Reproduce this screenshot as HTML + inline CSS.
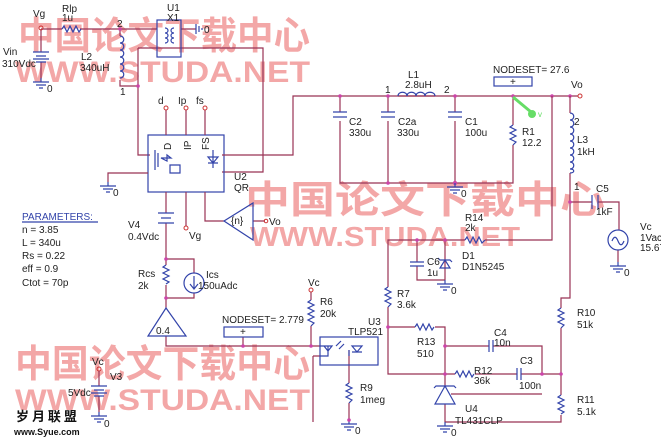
<!DOCTYPE html>
<html><head><meta charset="utf-8"><style>
body{margin:0;background:#fff}
svg{display:block}
text{font-family:"Liberation Sans",sans-serif;font-size:10px;fill:#222}
.w{stroke:#993355;stroke-width:1.2;fill:none}
.c{stroke:#3344aa;stroke-width:1.2;fill:none}
.n{fill:#cc44aa}
text.wm{font-family:"Liberation Sans","Noto Sans CJK SC",sans-serif;font-weight:bold;fill:#f08a8a;opacity:.75}
text.big{font-size:38px}
text.lat{font-size:30px}
</style></head><body>
<svg width="661" height="442" viewBox="0 0 661 442" xmlns="http://www.w3.org/2000/svg">
<defs>
<g id="gnd"><path class="c" d="M0 0v4M-8 4h16M-5 7h10M-2 10h4"/></g>
</defs>
<!-- watermarks -->
<text class="wm big" x="18" y="49" textLength="292" lengthAdjust="spacingAndGlyphs">中国论文下载中心</text>
<text class="wm lat" x="15" y="82" textLength="295" lengthAdjust="spacingAndGlyphs">WWW.STUDA.NET</text>
<text class="wm big" x="245" y="213" textLength="360" lengthAdjust="spacingAndGlyphs">中国论文下载中心</text>
<text class="wm lat" x="250" y="246" textLength="270" lengthAdjust="spacingAndGlyphs" style="font-size:28px">WWW.STUDA.NET</text>
<text class="wm big" x="15" y="377" textLength="295" lengthAdjust="spacingAndGlyphs">中国论文下载中心</text>
<text class="wm lat" x="15" y="410" textLength="295" lengthAdjust="spacingAndGlyphs">WWW.STUDA.NET</text>

<!-- top left -->
<path class="w" d="M41 29H62M80 29H157M181 29H196M41 29V52M41 62V78M120 29V36M120 80V86H138M138 48H263V172H222M138 48V155H150"/>
<path class="c" d="M62 29l2-3 3 6 3-6 3 6 3-6 3 6 2-3"/>
<path class="c" d="M120 36c5 0 5 7 0 7c5 0 5 7 0 7c5 0 5 7 0 7c5 0 5 7 0 7c5 0 5 7 0 7c5 0 5 7 0 7"/>
<rect class="c" x="157" y="20" width="24" height="37"/>
<path class="c" d="M165 28c4 0 4 5 0 5c4 0 4 5 0 5c4 0 4 5 0 5M174 28c-4 0 -4 5 0 5c-4 0 -4 5 0 5c-4 0 -4 5 0 5M196 24v10M199 26v6M202 28v2"/>
<path class="c" d="M33 52h16M36 56h10M33 59h16M36 62h10"/>
<use href="#gnd" x="41" y="78"/>
<circle cx="41" cy="28" r="2" fill="none" stroke="#cc3333"/>
<circle class="n" cx="120" cy="29" r="1.8"/><circle class="n" cx="138" cy="86" r="1.8"/>
<text x="33" y="17">Vg</text><text x="62" y="12">Rlp</text><text x="62" y="21">1u</text>
<text x="167" y="11">U1</text><text x="167" y="21">X1</text><text x="204" y="33">0</text>
<text x="117" y="27" font-size="9">2</text><text x="120" y="95" font-size="9">1</text>
<text x="81" y="60">L2</text><text x="80" y="71">340uH</text>
<text x="3" y="55">Vin</text><text x="2" y="67">310Vdc</text><text x="47" y="92">0</text>

<!-- U2 -->
<rect class="c" x="148" y="135" width="76" height="57"/>
<path class="w" d="M166 110V135M186 110V135M205 110V135M222 155H293V96H578M148 173H108V182M166 192V213M166 223V259M186 192V226M205 192V221H224M253 221H265"/>
<circle cx="166" cy="108" r="2" fill="none" stroke="#cc3333"/><circle cx="186" cy="108" r="2" fill="none" stroke="#cc3333"/><circle cx="205" cy="108" r="2" fill="none" stroke="#cc3333"/>
<text x="158" y="104">d</text><text x="178" y="104">Ip</text><text x="196" y="104">fs</text>
<text x="163" y="148" font-size="9" transform="rotate(-90 168 145)">D</text>
<text x="183" y="148" font-size="9" transform="rotate(-90 188 145)">IP</text>
<text x="201" y="148" font-size="9" transform="rotate(-90 206 145)">FS</text>
<path class="c" d="M155 150v20M158 153v14M161 158h10l-4-3v6zM170 165h10v8h-10zM213 150v18M208 157h10l-5 6zM208 163h10"/>
<text x="234" y="180">U2</text><text x="234" y="191">QR</text>
<use href="#gnd" x="108" y="182"/><text x="113" y="196">0</text>
<path class="c" d="M158 213h16M161 218h10M158 223h16M224 221L253 203V240Z"/>
<text x="231" y="224" font-size="9">{n}</text>
<circle cx="266" cy="221" r="1.8" fill="none" stroke="#cc3333"/><text x="269" y="225">Vo</text>
<circle cx="186" cy="228" r="2" fill="none" stroke="#cc3333"/><text x="189" y="239">Vg</text>
<text x="128" y="228">V4</text><text x="128" y="240">0.4Vdc</text>

<!-- params -->
<text x="22" y="220" style="fill:#3344aa">PARAMETERS:</text>
<path class="c" d="M22 222H98"/>
<text x="22" y="233">n = 3.85</text><text x="22" y="246">L = 340u</text><text x="22" y="259">Rs = 0.22</text><text x="22" y="272">eff = 0.9</text><text x="22" y="286">Ctot = 70p</text>

<!-- Rcs/Ics -->
<path class="w" d="M166 259H194V273M194 293V298H166M166 259V265M166 285V308M166 336V346H320M243 346V337M311 292V300M311 326V346M313 356H320M313 356V422M349 350V383M349 403V420"/>
<path class="c" d="M166 265l-3 2 6 3-6 3 6 3-6 3 6 3-3 2"/>
<circle class="c" cx="194" cy="283" r="10"/><path class="c" d="M194 276v12M190 284l4 5 4-5"/>
<path class="c" d="M166 308L148 336H186Z"/><text x="156" y="334">0.4</text>
<circle class="n" cx="166" cy="259" r="1.8"/><circle class="n" cx="166" cy="298" r="1.8"/><circle class="n" cx="243" cy="346" r="1.8"/><circle class="n" cx="311" cy="346" r="1.8"/>
<text x="138" y="277">Rcs</text><text x="138" y="289">2k</text><text x="206" y="278">Ics</text><text x="198" y="289">150uAdc</text>
<text x="222" y="323">NODESET= 2.779</text><rect class="c" x="224" y="327" width="39" height="10"/><text x="240" y="335" font-size="9">+</text>
<circle cx="311" cy="290" r="2" fill="none" stroke="#cc3333"/><text x="308" y="286">Vc</text>
<path class="c" d="M311 300l-3 2 6 3-6 3 6 3-6 3 6 3-6 3 6 3-3 3"/>
<text x="320" y="305">R6</text><text x="320" y="317">20k</text>

<!-- U3 -->
<rect class="c" x="320" y="337" width="58" height="28"/>
<path class="c" d="M320 346h8v10h-8M324 346l4 5 4-5zM336 346l5-5M339 349l5-5M349 350v6M352 346h10l-5 6zM352 352h10"/>
<text x="368" y="325">U3</text><text x="348" y="335">TLP521</text>
<path class="c" d="M349 383l-3 2 6 3-6 3 6 3-6 3 6 3-3 3"/>
<text x="360" y="391">R9</text><text x="360" y="403">1meg</text>
<use href="#gnd" x="349" y="420"/><text x="355" y="434">0</text><circle class="n" cx="349" cy="420" r="1.8"/>

<!-- V3 -->
<circle cx="99" cy="369" r="2" fill="none" stroke="#cc3333"/><text x="92" y="365">Vc</text>
<path class="w" d="M99 371V386M99 396V412"/><path class="c" d="M91 386h16M94 390h10M91 393h16M94 396h10"/>
<use href="#gnd" x="99" y="412"/><text x="104" y="427">0</text>
<text x="110" y="380">V3</text><text x="68" y="396">5Vdc</text>
<text x="16" y="421" style="font-family:'Noto Sans CJK SC',sans-serif;font-size:13px;font-weight:bold;fill:#111">岁 月 联 盟</text>
<text x="14" y="435" style="font-size:9px;font-weight:bold;fill:#111">www.Syue.com</text>

<!-- output filter -->
<path class="w" d="M340 96V112M340 121V183H513V145M388 96V112M388 121V183M455 96V112M455 121V183M513 96V125"/>
<path class="c" d="M333 112h14M333 117h14M381 112h14M381 117h14M448 112h14M448 117h14"/>
<path class="w" d="M398 96H435" stroke="#fff" stroke-width="2"/>
<path class="c" d="M398 96c0-5 9-5 9 0c0-5 9-5 9 0c0-5 9-5 9 0c0-5 10-5 10 0"/>
<path class="c" d="M513 125l-3 2 6 3-6 3 6 3-6 3 6 3-3 3"/>
<circle class="n" cx="340" cy="96" r="1.8"/><circle class="n" cx="388" cy="96" r="1.8"/><circle class="n" cx="455" cy="96" r="1.8"/><circle class="n" cx="513" cy="96" r="1.8"/><circle class="n" cx="552" cy="96" r="1.8"/><circle class="n" cx="570" cy="96" r="1.8"/><circle class="n" cx="388" cy="183" r="1.8"/><circle class="n" cx="455" cy="183" r="2.2"/>
<use href="#gnd" x="455" y="183"/><text x="461" y="197">0</text>
<text x="349" y="125">C2</text><text x="349" y="136">330u</text><text x="398" y="125">C2a</text><text x="397" y="136">330u</text>
<text x="465" y="125">C1</text><text x="465" y="136">100u</text><text x="522" y="135">R1</text><text x="522" y="146">12.2</text>
<text x="408" y="78">L1</text><text x="405" y="88">2.8uH</text><text x="385" y="93" font-size="9">1</text><text x="444" y="93" font-size="9">2</text>
<text x="493" y="73">NODESET=  27.6</text><rect class="c" x="494" y="77" width="38" height="9"/><text x="510" y="85" font-size="9">+</text>
<path d="M513 97L531 112" stroke="#66dd66" stroke-width="3"/><circle cx="532" cy="114" r="4" fill="#66dd66"/><text x="538" y="117" style="font-size:8px;fill:#66dd66">v</text>
<circle cx="580" cy="96" r="2" fill="none" stroke="#cc3333"/><text x="571" y="88">Vo</text>

<!-- right column -->
<path class="w" d="M570 96V113M570 173V298H561V308M561 328V395M561 415V422H445M552 96V240H485M465 240H388V287M388 307V357M570 202H592M598 202H619V230M618 250V262"/>
<path class="c" d="M570 113c5 0 5 7 0 7c5 0 5 7 0 7c5 0 5 7 0 7c5 0 5 7 0 7c5 0 5 7 0 7c5 0 5 7 0 7c5 0 5 7 0 7c5 0 5 7 0 7c5 0 5 4 0 4"/>
<path class="c" d="M592 195v14M598 195v14"/>
<circle class="c" cx="618" cy="240" r="10"/><path class="c" d="M612 241c2-5 4-5 6 0s4 5 6 0"/>
<use href="#gnd" x="618" y="262"/><text x="624" y="276">0</text>
<text x="574" y="125" font-size="9">2</text><text x="574" y="190" font-size="9">1</text>
<text x="577" y="143">L3</text><text x="577" y="155">1kH</text>
<text x="596" y="192">C5</text><text x="596" y="215">1kF</text>
<text x="640" y="230">Vc</text><text x="640" y="241">1Vac</text><text x="640" y="251">15.67</text>
<circle class="n" cx="570" cy="202" r="1.8"/>
<path class="c" d="M561 308l-3 2 6 3-6 3 6 3-6 3 6 3-3 3M561 395l-3 2 6 3-6 3 6 3-6 3 6 3-3 2"/>
<text x="577" y="316">R10</text><text x="577" y="328">51k</text><text x="577" y="403">R11</text><text x="577" y="415">5.1k</text>

<!-- R14, C6, D1 -->
<path class="c" d="M465 240l2-3 3 6 3-6 3 6 3-6 3 6 3-3"/>
<text x="465" y="221">R14</text><text x="465" y="231">2k</text>
<path class="w" d="M417 240V262M417 266V280H445M445 240V280"/>
<path class="c" d="M410 262h14M410 266h14M440 268h10l-5-8zM438 258l2 2h10l2 2"/>
<use href="#gnd" x="445" y="280"/><text x="451" y="294">0</text>
<circle class="n" cx="417" cy="240" r="1.8"/><circle class="n" cx="445" cy="240" r="1.8"/>
<text x="427" y="265">C6</text><text x="427" y="276">1u</text><text x="462" y="259">D1</text><text x="462" y="270">D1N5245</text>
<path class="c" d="M388 287l-3 2 6 3-6 3 6 3-6 3 6 3-3 3"/>
<text x="397" y="297">R7</text><text x="397" y="308">3.6k</text>

<!-- TL431 area -->
<path class="w" d="M388 327H415M435 327H445V386M445 404V422M445 346H489M493 346H542V374M388 357V374H455M475 374H517M521 374H561M451 394H542"/>
<path class="c" d="M415 327l2-3 3 6 3-6 3 6 3-6 3 6 2-3M455 374l2-3 3 6 3-6 3 6 3-6 3 6 2-3M489 340v12M493 340v12M517 368v12M521 368v12M445 386L435 404H455ZM434 388l2-2h18l2 2"/>
<circle class="n" cx="388" cy="327" r="1.8"/><circle class="n" cx="445" cy="346" r="1.8"/><circle class="n" cx="445" cy="374" r="1.8"/><circle class="n" cx="542" cy="374" r="1.8"/><circle class="n" cx="561" cy="374" r="1.8"/>
<text x="417" y="345">R13</text><text x="417" y="357">510</text>
<text x="494" y="336">C4</text><text x="494" y="346">10n</text>
<text x="474" y="374">R12</text><text x="474" y="384">36k</text>
<text x="520" y="364">C3</text><text x="519" y="389">100n</text>
<text x="465" y="412">U4</text><text x="455" y="424">TL431CLP</text>
<use href="#gnd" x="445" y="422"/><text x="451" y="436">0</text>
</svg>
</body></html>
